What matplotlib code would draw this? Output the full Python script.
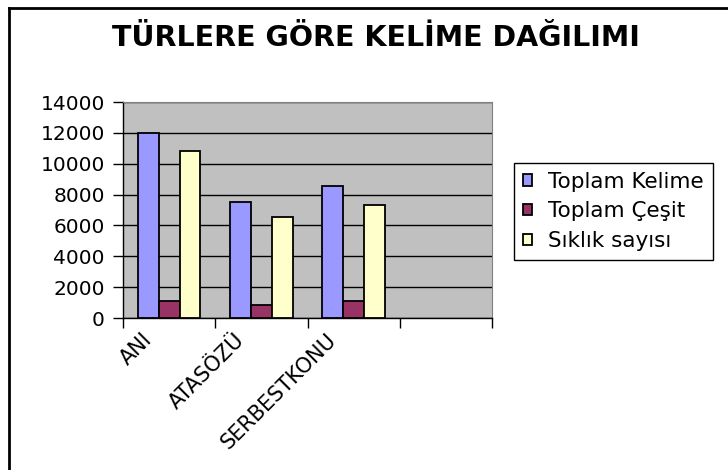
import matplotlib
matplotlib.use('Agg')
import matplotlib.pyplot as plt
import matplotlib.transforms as mtransforms
from matplotlib.lines import Line2D
import numpy as np

# data
categories = ['ANI', 'ATASÖZÜ', 'SERBESTKONU', '']
toplam_kelime = [12000, 7500, 8580]
toplam_cesit = [1120, 850, 1120]
siklik_sayisi = [10850, 6550, 7300]
series_names = ['Toplam Kelime', 'Toplam Çeşit', 'Sıklık sayısı']
yticks = [0, 2000, 4000, 6000, 8000, 10000, 12000, 14000]

plt.rcParams['font.family'] = ['DejaVu Sans']

fig = plt.figure(figsize=(7.28, 4.70), dpi=100)
ax = fig.add_axes([123 / 728, 1 - 318 / 470, 369 / 728, 216 / 470])
ax.set_facecolor('#C0C0C0')

x = np.arange(3)
w = 0.225
ax.bar(x - w, toplam_kelime, w, color='#9999FF', edgecolor='black', linewidth=1.3, label=series_names[0], zorder=3)
ax.bar(x, toplam_cesit, w, color='#993366', edgecolor='black', linewidth=1.3, label=series_names[1], zorder=3)
ax.bar(x + w, siklik_sayisi, w, color='#FFFFCC', edgecolor='black', linewidth=1.3, label=series_names[2], zorder=3)

ax.set_xlim(-0.5, 3.5)
ax.set_ylim(0, 14000)
ax.set_yticks(yticks)
ax.set_yticklabels([str(v) for v in yticks], fontsize=14.5)
ax.yaxis.grid(True, color='black', linewidth=1, zorder=1)
ax.tick_params(axis='y', length=7, width=1, pad=6)

# category labels at slot centres, tick marks at slot borders
ax.set_xticks(np.arange(4))
ax.set_xticklabels(categories, fontsize=15, rotation=45, ha='right', rotation_mode='anchor')
ax.set_xticks(np.arange(5) - 0.5, minor=True)
ax.tick_params(axis='x', which='major', length=0, pad=4)
ax.tick_params(axis='x', which='minor', length=7, width=1)
offset = mtransforms.ScaledTranslation(-0.27, -0.06, fig.dpi_scale_trans)
for lbl in ax.get_xticklabels():
    lbl.set_transform(lbl.get_transform() + offset)

for side in ['top', 'right']:
    ax.spines[side].set_color('#808080')
ax.spines['left'].set_linewidth(1)
ax.spines['bottom'].set_linewidth(1)

fig.text(376 / 728, 1 - 38 / 470, 'TÜRLERE GÖRE KELİME DAĞILIMI',
         fontsize=20.5, fontweight='bold', ha='center', va='center')

leg = fig.legend(loc='upper left', bbox_to_anchor=(514 / 728, 1 - 163 / 470),
                 fontsize=15.5, frameon=True, fancybox=False, framealpha=1,
                 edgecolor='black', handlelength=0.45, handleheight=0.45,
                 handletextpad=0.75, labelspacing=0.45, borderpad=0.4, borderaxespad=0)
leg.get_frame().set_linewidth(1)

# chart border (only top and left edges are visible)
fig.add_artist(Line2D([9 / 728, 1], [1 - 8 / 470, 1 - 8 / 470], color='black', linewidth=2, transform=fig.transFigure))
fig.add_artist(Line2D([9 / 728, 9 / 728], [0, 1 - 8 / 470], color='black', linewidth=2, transform=fig.transFigure))

fig.savefig('out.png', dpi=100)
